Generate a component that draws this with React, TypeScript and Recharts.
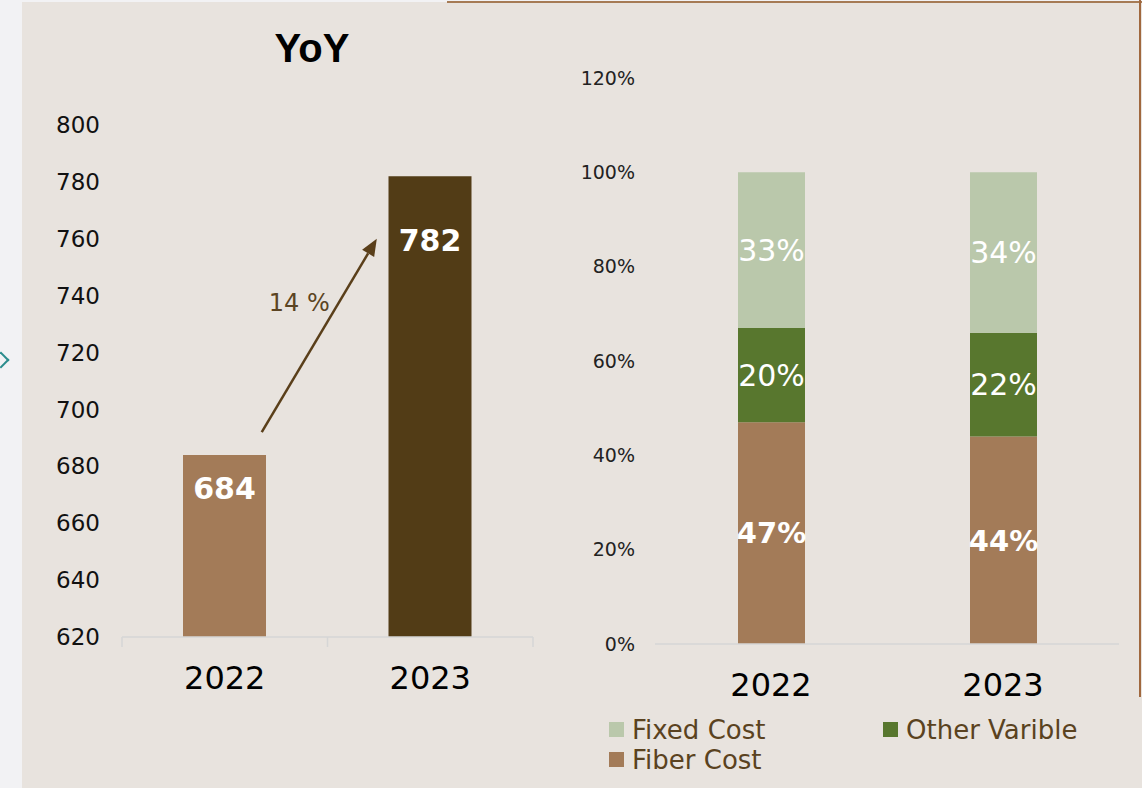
import React from "react";
import { BarChart, Bar, XAxis, YAxis, LabelList, ReferenceLine, Legend, Cell } from "recharts";

// left panel: total cost YoY
const years = ["2022", "2023"];
const totals = [684, 782];
const totalTicks = [620, 640, 660, 680, 700, 720, 740, 760, 780, 800];
const growthText = "14 %";
// arrow ends in data units (slot position on the year axis, value)
const growthFrom = { slot: 0.68, value: 692 };
const growthTo = { slot: 1.24, value: 760 };

// right panel: cost mix
const fiberCost = [47, 44];
const otherVarible = [20, 22];
const fixedCost = [33, 34];
const shareTicks = [0, 20, 40, 60, 80, 100, 120];
const legendOrder = ["Fixed Cost", "Other Varible", "Fiber Cost"];

const FONT = "'DejaVu Sans', sans-serif";
const BROWN = "#a37b58";
const DARK_BROWN = "#523c16";
const LIGHT_GREEN = "#bac8ab";
const DARK_GREEN = "#58772e";
const totalColors = [BROWN, DARK_BROWN];
const totalLabelDrop = [34, 64];

const totalData = years.map((year, i) => ({ year, total: totals[i], slot: i }));
const mixData = years.map((year, i) => ({
  year,
  fiber: fiberCost[i],
  other: otherVarible[i],
  fixed: fixedCost[i],
}));

function TotalLabel(props: any) {
  const { x, y, width, value, index } = props;
  return (
    <text
      x={x + width / 2}
      y={y + totalLabelDrop[index]}
      textAnchor="middle"
      dominantBaseline="central"
      fill="#fff"
      fontFamily={FONT}
      fontWeight="bold"
      fontSize={30}
    >
      {value}
    </text>
  );
}

function GrowthArrow(p: any) {
  const { x1, y1, x2, y2 } = p;
  const a = Math.atan2(y2 - y1, x2 - x1);
  const c = Math.cos(a);
  const s = Math.sin(a);
  const len = 17;
  const w = 7;
  const bx = x2 - len * c;
  const by = y2 - len * s;
  const pts = `${x2},${y2} ${bx - w * s},${by + w * c} ${bx + w * s},${by - w * c}`;
  return (
    <g>
      <line x1={x1} y1={y1} x2={bx} y2={by} stroke="#5a3f1a" strokeWidth={2.5} />
      <polygon points={pts} fill="#5a3f1a" />
      <text
        x={(x1 + x2) / 2 - 20}
        y={(y1 + y2) / 2 - 32}
        textAnchor="middle"
        dominantBaseline="central"
        fontFamily={FONT}
        fontSize={24}
        fill="#5b4423"
      >
        {growthText}
      </text>
    </g>
  );
}

function BoundaryTick(p: any) {
  const bottom = Math.max(p.y1, p.y2);
  return <line x1={p.x1} x2={p.x1} y1={bottom} y2={bottom + 10} stroke="#d6d6d6" strokeWidth={1.5} />;
}

function MixLegend({ payload }: any) {
  const items = legendOrder
    .map((name) => (payload || []).find((it: any) => it.value === name))
    .filter(Boolean);
  return (
    <div style={{ display: "grid", gridTemplateColumns: "274px 274px", rowGap: 1 }}>
      {items.map((it: any) => (
        <div key={it.value} style={{ display: "flex", alignItems: "center", height: 29 }}>
          <span style={{ width: 15, height: 15, background: it.color, marginRight: 8, display: "inline-block" }} />
          <span style={{ fontFamily: FONT, fontSize: 26, color: "#5a4220" }}>{it.value}</span>
        </div>
      ))}
    </div>
  );
}

export default function App() {
  const pctLabel = (v: any) => `${v}%`;
  return (
    <div style={{ position: "absolute", left: 0, top: 0, width: 1142, height: 788, background: "#f2f2f4", overflow: "hidden" }}>
      <div style={{ position: "absolute", left: 22, top: 2, width: 1120, height: 786, background: "#e8e3de" }} />
      <div style={{ position: "absolute", left: 447, top: 1, width: 695, height: 2, background: "#a67b55" }} />
      <div style={{ position: "absolute", left: 1139, top: 0, width: 2, height: 697, background: "#a0683e" }} />
      <div
        style={{
          position: "absolute",
          left: -5,
          top: 354,
          width: 10,
          height: 10,
          borderTop: "2px solid #2b8c8c",
          borderRight: "2px solid #2b8c8c",
          transform: "rotate(45deg)",
        }}
      />
      <div
        style={{
          position: "absolute",
          left: 262,
          top: 26,
          width: 100,
          textAlign: "center",
          fontFamily: "'Liberation Sans', Arial, sans-serif",
          fontWeight: "bold",
          fontSize: 40,
          color: "#000",
        }}
      >
        YoY
      </div>

      <div style={{ position: "absolute", left: 0, top: 0 }}>
        <BarChart width={560} height={788} data={totalData} margin={{ top: 125, right: 27, left: 40, bottom: 91 }}>
          <XAxis
            dataKey="year"
            axisLine={{ stroke: "#d6d6d6", strokeWidth: 1.5 }}
            tickLine={false}
            tickSize={0}
            tickMargin={29}
            height={60}
            tick={{ fontSize: 32, fill: "#000", fontFamily: FONT }}
          />
          <XAxis xAxisId="b" dataKey="slot" type="number" domain={[0, 2]} allowDataOverflow hide />
          <YAxis
            domain={[620, 800]}
            ticks={totalTicks}
            allowDataOverflow
            axisLine={false}
            tickLine={false}
            tickSize={0}
            tickMargin={22}
            width={82}
            tick={{ fontSize: 23, fill: "#111", fontFamily: FONT }}
          />
          <Bar dataKey="total" barSize={83} isAnimationActive={false}>
            {totalData.map((d, i) => (
              <Cell key={d.year} fill={totalColors[i]} />
            ))}
            <LabelList dataKey="total" content={TotalLabel} />
          </Bar>
          {[0, 1, 2].map((s) => (
            <ReferenceLine key={s} x={s} xAxisId="b" ifOverflow="visible" shape={BoundaryTick} />
          ))}
          <ReferenceLine
            xAxisId="b"
            ifOverflow="visible"
            segment={[
              { x: growthFrom.slot, y: growthFrom.value },
              { x: growthTo.slot, y: growthTo.value },
            ]}
            shape={GrowthArrow}
          />
        </BarChart>
      </div>

      <div style={{ position: "absolute", left: 540, top: 0 }}>
        <BarChart width={602} height={788} data={mixData} margin={{ top: 78, right: 23, left: 20, bottom: 84 }}>
          <XAxis
            dataKey="year"
            axisLine={{ stroke: "#d6d6d6", strokeWidth: 1.5 }}
            tickLine={false}
            tickSize={0}
            tickMargin={29}
            height={60}
            tick={{ fontSize: 32, fill: "#000", fontFamily: FONT }}
          />
          <YAxis
            domain={[0, 120]}
            ticks={shareTicks}
            axisLine={false}
            tickLine={false}
            tickSize={0}
            tickMargin={20}
            width={95}
            tickFormatter={pctLabel}
            tick={{ fontSize: 19, fill: "#222", fontFamily: FONT }}
          />
          <Legend
            layout="horizontal"
            verticalAlign="middle"
            align="center"
            wrapperStyle={{ top: 715, left: 69, width: 560 }}
            content={MixLegend}
          />
          <Bar dataKey="fiber" name="Fiber Cost" stackId="mix" fill={BROWN} barSize={67} isAnimationActive={false}>
            <LabelList
              dataKey="fiber"
              position="center"
              formatter={pctLabel}
              fill="#fff"
              fontSize={29}
              fontWeight="bold"
              fontFamily={FONT}
            />
          </Bar>
          <Bar dataKey="other" name="Other Varible" stackId="mix" fill={DARK_GREEN} barSize={67} isAnimationActive={false}>
            <LabelList dataKey="other" position="center" formatter={pctLabel} fill="#fff" fontSize={30} fontFamily={FONT} />
          </Bar>
          <Bar dataKey="fixed" name="Fixed Cost" stackId="mix" fill={LIGHT_GREEN} barSize={67} isAnimationActive={false}>
            <LabelList dataKey="fixed" position="center" formatter={pctLabel} fill="#fff" fontSize={30} fontFamily={FONT} />
          </Bar>
        </BarChart>
      </div>
    </div>
  );
}
